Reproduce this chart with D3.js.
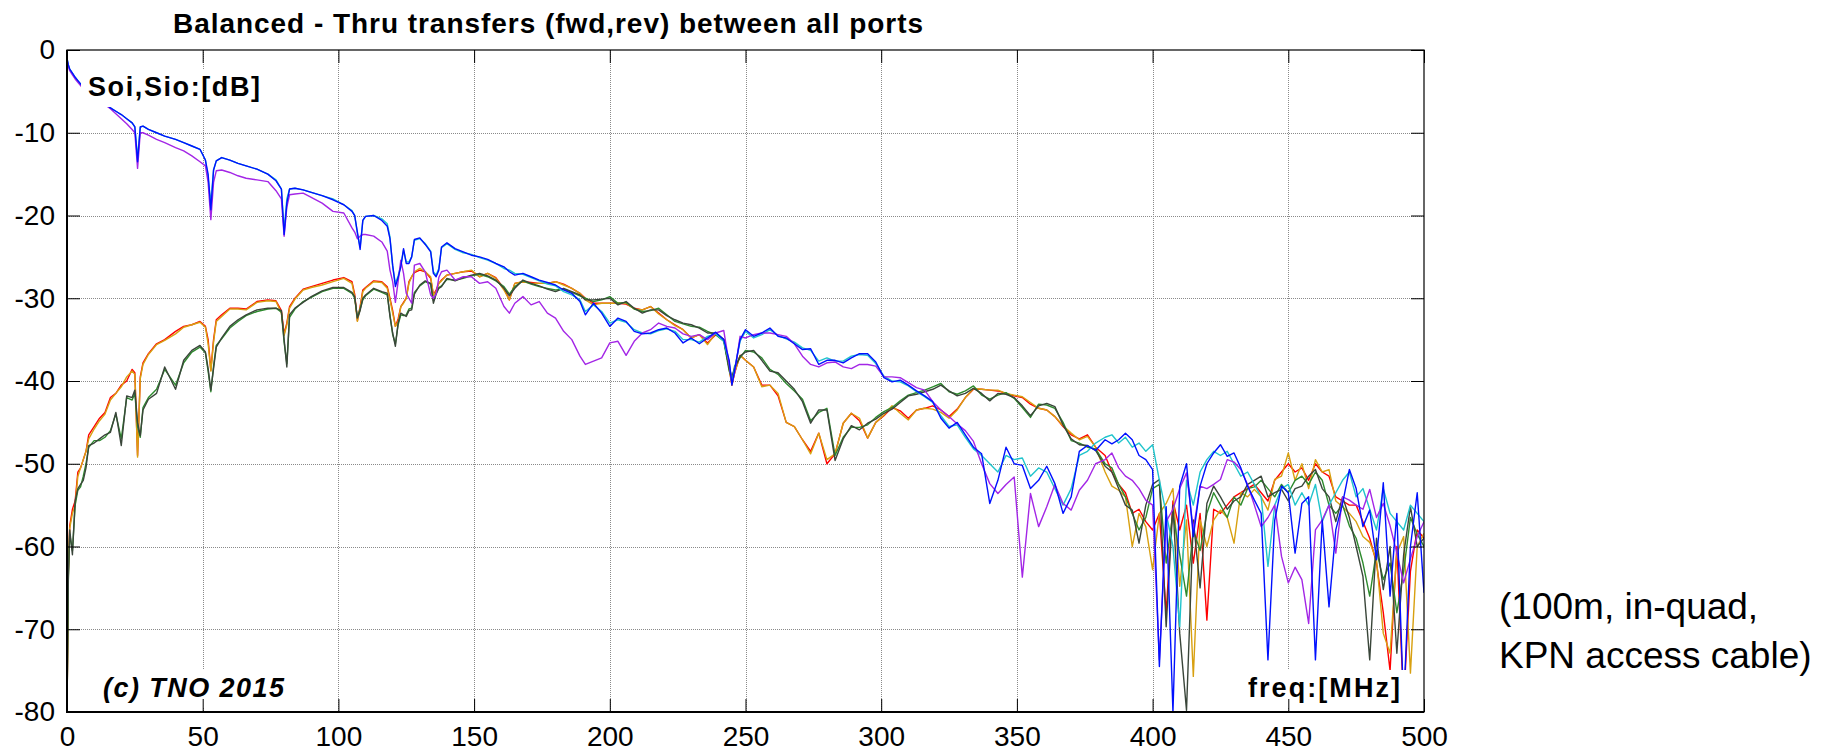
<!DOCTYPE html>
<html>
<head>
<meta charset="utf-8">
<script src="https://cdn.jsdelivr.net/npm/d3@7"></script>
<style>
  html, body { margin: 0; padding: 0; background: #fff; }
  svg { display: block; font-family: "Liberation Sans", Arial, Helvetica, sans-serif; }
</style>
</head>
<body>
<svg id="chart" width="1832" height="752"></svg>
<script>
// frequency points [MHz], one line per segment
const freq = [
  0, 0.5, 1, 2, 3, 4, 5, 6, 7, 8, 10, 12, 14, 16, 18, 20, 22, 24, 25, 26, 27, 28, 30,
  33, 36, 40, 43, 46, 49, 51, 52, 53, 54, 55, 57, 60,
  63, 66, 70, 74, 77, 79, 80, 81, 82, 84, 87, 90,
  94, 98, 102, 105, 106, 107, 108, 109, 110, 113, 116, 118, 119, 120,
  121, 122, 123, 124, 125, 126, 127, 128, 130, 132, 134, 135, 136, 137, 138, 140,
  143, 146, 149, 152, 155, 158, 161, 163, 165, 168, 171, 174, 177, 180, 183, 186, 189, 191,
  194, 197, 200, 203, 206, 209, 212, 215, 218, 221, 224, 227, 230, 233, 236, 239, 242,
  244, 245, 246, 248, 250, 253, 256, 259, 262, 265, 268, 271, 274, 277, 280, 283, 286, 289, 292, 295, 298,
  301, 304, 307, 310, 313, 316, 319, 322, 325, 328, 331, 334, 337, 340, 343, 346, 349, 352, 355, 358, 361, 364, 367, 370, 373, 376, 379,
  382.5, 385, 387.5, 390, 392.5, 395, 397.5, 400, 402.5, 405, 407.5, 410, 412.5, 415, 417.5, 420, 422.5, 425, 427.5, 430, 432.5, 435, 437.5, 440,
  442.5, 445, 447.5, 450, 452.5, 455, 457.5, 460, 462.5, 465, 467.5, 470, 472.5, 475, 477.5, 480, 482.5, 485, 487.5, 490, 492.5, 495, 497.5, 500
];

// transfers [dB]
const blue = [
  -1.0, -1.8, -2.3, -2.8, -3.3, -3.7, -4.1, -4.5, -4.9, -5.2, -5.6, -6.0, -6.4, -7.0, -7.4, -7.8, -8.3, -8.8, -9.3, -13.5, -9.3, -9.2, -9.6,
  -10.0, -10.4, -10.8, -11.2, -11.6, -12.0, -13.3, -15.0, -19.3, -14.5, -13.4, -13.0, -13.3,
  -13.7, -14.0, -14.4, -15.0, -15.8, -16.8, -22.3, -18.5, -16.8, -16.7, -16.9, -17.2,
  -17.6, -18.1, -18.7, -19.5, -20.0, -22.0, -24.1, -20.6, -20.1, -20.0, -20.6, -21.3, -22.8, -26.0,
  -28.6, -27.5, -26.2, -24.0, -25.8, -25.8, -25.0, -22.9, -22.7, -23.5, -24.4, -27.0, -27.4, -26.6, -23.8, -23.3,
  -24.0, -24.4, -24.8, -25.0, -25.3, -25.8, -26.2, -26.8, -27.2, -27.0, -27.4, -27.8, -28.1, -28.4, -29.0, -29.4, -30.4, -32.0,
  -30.6, -31.8, -33.4, -32.4, -32.8, -34.0, -34.3, -34.2, -33.8, -33.6, -34.2, -35.4, -34.8, -35.5, -34.8, -34.1, -35.0,
  -37.5, -40.5, -38.7, -35.0, -33.8, -34.6, -34.2, -33.6, -34.6, -34.8, -35.5, -36.2, -36.1, -38.0, -37.5, -37.5, -37.8, -37.2, -36.7, -36.7, -37.7,
  -39.6, -40.1, -39.9, -40.5, -41.2, -41.8, -42.5, -44.5, -45.7, -45.0, -46.5, -48.0, -48.8, -54.8, -52.0, -48.0, -50.0, -50.2, -53.0, -52.0, -50.3, -52.4, -56.0, -54.0, -48.5, -47.8, -48.4,
  -47.1, -47.6, -47.1, -46.3, -47.1, -49.0, -49.5, -50.7, -74.5, -55.2, -80.0, -52.7, -50.0, -58.8, -52.7, -50.0, -48.7, -47.7, -49.1, -48.7, -50.5, -52.7, -54.4, -56.0,
  -73.7, -56.8, -52.7, -53.5, -60.8, -54.8, -54.0, -73.7, -56.8, -67.3, -58.0, -54.8, -50.7, -53.0, -57.6, -55.6, -61.6, -52.3, -66.0, -56.0, -79.0, -60.0, -53.5, -65.6
];
const cyan = [
  -1.0, -1.8, -2.3, -2.8, -3.3, -3.7, -4.1, -4.5, -4.9, -5.2, -5.6, -6.0, -6.4, -7.0, -7.4, -7.8, -8.3, -8.8, -9.3, -13.0, -9.3, -9.2, -9.6,
  -10.0, -10.4, -10.8, -11.2, -11.6, -12.0, -13.3, -15.5, -18.5, -14.5, -13.4, -13.0, -13.3,
  -13.7, -14.0, -14.4, -15.0, -15.7, -16.8, -21.8, -18.0, -16.8, -16.7, -16.9, -17.2,
  -17.6, -18.0, -18.7, -19.4, -20.0, -22.2, -23.8, -20.6, -20.1, -20.0, -20.4, -21.0, -22.6, -26.2,
  -28.2, -27.3, -26.0, -24.2, -25.6, -25.6, -25.0, -23.0, -22.8, -23.4, -24.3, -26.8, -27.2, -26.4, -23.9, -23.4,
  -24.1, -24.5, -24.7, -25.1, -25.4, -25.8, -26.4, -26.6, -27.0, -27.1, -27.5, -27.9, -28.3, -28.5, -29.2, -29.6, -30.2, -31.6,
  -30.8, -31.6, -33.0, -32.6, -32.9, -33.8, -34.2, -34.3, -33.9, -33.7, -34.0, -35.0, -35.0, -35.3, -34.6, -34.3, -35.2,
  -37.8, -40.2, -38.5, -35.2, -34.0, -34.8, -34.4, -33.8, -34.5, -34.9, -35.3, -36.0, -36.3, -37.6, -37.2, -37.6, -37.6, -37.0, -36.8, -36.9, -37.9,
  -39.4, -40.0, -40.1, -40.6, -41.3, -41.9, -42.6, -44.2, -45.5, -45.3, -46.8, -48.2, -49.0, -50.0, -51.0, -49.0, -49.5, -49.3, -51.5, -50.5, -51.0, -53.0, -55.0, -53.0, -49.0, -48.5, -47.5,
  -46.8, -46.5, -47.5, -46.8, -48.0, -47.5, -48.5, -47.7, -52.0, -56.0, -60.0, -69.7, -52.0, -55.0, -51.0, -49.5, -48.5, -49.0, -48.5, -50.0, -51.5, -51.0, -52.5, -54.0,
  -62.4, -55.0, -53.0, -52.5, -55.0, -53.5, -55.0, -52.5, -57.0, -55.0, -53.5, -52.0, -51.0, -54.0, -53.0, -55.5, -58.0, -53.0, -56.0, -57.0, -58.0, -55.0, -56.0, -57.0
];
const purple = [
  -1.2, -2.0, -2.5, -3.0, -3.5, -3.9, -4.3, -4.7, -5.1, -5.4, -5.8, -6.2, -6.6, -7.1, -7.7, -8.3, -8.9, -9.6, -10.0, -14.3, -10.0, -10.0, -10.3,
  -10.8, -11.2, -11.8, -12.2, -12.8, -13.5, -14.0, -16.0, -20.5, -16.0, -14.6, -14.5, -14.8,
  -15.2, -15.5, -15.7, -15.9, -17.0, -18.0, -22.5, -19.0, -17.5, -17.4, -17.3, -17.8,
  -18.5, -19.5, -19.7, -21.5, -22.0, -22.8, -22.5, -22.3, -22.3, -22.5, -23.2, -24.3, -26.6, -28.0,
  -30.5, -28.0, -25.4, -27.0, -29.4, -30.0, -30.6, -26.0, -25.8, -26.8, -29.6, -30.0, -29.5, -27.5, -26.8, -26.6,
  -27.8, -27.4, -27.4, -28.2, -28.0, -28.8, -31.0, -31.8, -30.6, -29.8, -30.8, -30.4, -31.8, -32.4, -34.0, -35.0, -37.0, -38.0,
  -37.6, -37.2, -35.4, -35.2, -36.9, -35.2, -34.2, -33.8, -33.0, -33.4, -33.6, -34.3, -34.6, -34.4, -35.0, -34.2, -33.9,
  -38.0, -40.3, -39.0, -34.6, -34.8, -34.4, -34.2, -34.2, -34.4, -34.6, -35.5, -37.0, -38.0, -38.3, -37.8, -37.7, -38.3, -38.5, -38.0, -38.0, -38.2,
  -39.5, -39.5, -39.6, -40.2, -40.8, -41.1, -42.5, -43.5, -44.3, -45.2, -46.0, -47.3, -50.0, -52.4, -53.6, -52.5, -51.6, -63.7, -53.6, -57.6, -55.2, -52.5, -54.8, -55.6, -53.2, -52.0, -50.0,
  -49.5, -48.7, -50.5, -51.5, -52.0, -53.0, -54.4, -55.0, -73.7, -57.0, -55.5, -53.0, -51.1, -58.0, -52.7, -53.0, -52.5, -51.9, -49.5, -49.8, -50.7, -52.5, -55.0, -57.6,
  -56.5, -55.0, -61.2, -64.4, -62.5, -64.0, -69.3, -58.0, -56.8, -55.0, -60.8, -54.0, -54.4, -55.0, -55.5, -53.1, -56.5, -54.8, -57.5, -60.8, -64.4, -61.5, -58.8, -57.0
];
const red = [
  -80, -63, -57.5, -55.5, -54.5, -51, -50.5, -49.5, -48.5, -46.5, -45.5, -44.5, -43.8, -42.0, -41.5, -40.5, -40.0, -38.6, -39.0, -49.0, -39.5, -37.8, -36.7,
  -35.5, -35.0, -34.0, -33.4, -33.2, -32.8, -33.4, -35.0, -38.7, -35.0, -32.6, -32.0, -31.2,
  -31.2, -31.3, -30.4, -30.2, -30.3, -31.5, -34.3, -33.0, -31.0, -30.0, -28.9, -28.6,
  -28.2, -27.8, -27.5, -28.0, -29.5, -32.7, -31.0, -29.0, -28.7, -27.9, -28.0, -28.6, -30.0, -31.5,
  -33.4, -32.5, -31.0, -30.5, -30.0, -28.0, -27.4, -26.9, -26.6, -26.8, -27.6, -29.6, -29.0, -28.2, -27.8, -27.2,
  -27.0, -26.8, -26.7, -27.4, -27.0, -27.5, -28.8, -30.2, -28.2, -28.0, -28.1, -28.2, -28.2, -28.0, -28.3, -28.8, -29.4, -30.0,
  -30.6, -30.6, -30.6, -30.6, -30.7, -31.2, -31.4, -31.0, -31.8, -32.6, -33.2, -33.8, -34.8, -34.4, -35.4, -34.4, -35.0,
  -38.5, -40.5, -39.0, -36.9, -37.5, -38.3, -40.5, -40.5, -41.8, -45.0, -45.5, -47.1, -48.5, -46.3, -50.0, -48.8, -45.1, -43.9, -44.8, -46.9, -45.0,
  -44.2, -43.2, -43.6, -44.5, -43.5, -43.3, -43.0, -43.5, -44.3, -43.4, -42.0, -41.0, -41.0, -41.1, -41.2, -41.5, -41.8, -42.0, -42.8, -43.3, -43.5, -44.3, -45.5, -46.5, -47.0, -46.5, -48.0,
  -49.0, -51.0, -52.5, -53.5, -56.0, -55.5, -57.0, -58.0, -56.0, -68.0, -54.5, -58.0, -55.0, -62.0, -56.0, -68.9, -55.5, -56.0, -55.0, -54.0, -53.5, -53.0, -52.5, -53.5,
  -54.5, -52.0, -51.0, -50.0, -51.0, -50.5, -52.0, -50.0, -51.0, -51.5, -54.0, -54.5, -55.0, -55.0, -57.0, -59.0, -62.0, -68.0, -75.0, -60.0, -79.0, -63.0, -58.0, -59.0
];
const gold = [
  -80, -63, -57.8, -56.0, -55.0, -51.5, -50.5, -49.5, -48.5, -47.0, -45.8, -44.8, -44.0, -42.3, -41.5, -40.7, -39.5, -38.8, -39.2, -49.2, -39.7, -38.0, -36.8,
  -35.6, -35.1, -34.3, -33.5, -33.2, -32.9, -33.5, -35.5, -38.8, -35.3, -32.8, -32.2, -31.3,
  -31.3, -31.4, -30.5, -30.3, -30.4, -31.8, -34.5, -33.2, -31.2, -30.1, -29.0, -28.7,
  -28.4, -28.0, -27.6, -28.2, -29.8, -32.8, -31.2, -29.2, -28.8, -28.0, -28.1, -28.8, -30.2, -31.8,
  -33.4, -32.8, -31.0, -30.6, -30.0, -28.2, -27.4, -26.8, -26.4, -26.8, -27.4, -29.6, -29.2, -28.2, -27.9, -27.2,
  -27.0, -26.8, -26.6, -27.4, -27.0, -27.6, -29.0, -30.2, -28.2, -28.0, -28.2, -28.2, -28.2, -28.0, -28.4, -28.8, -29.4, -30.2,
  -30.8, -30.6, -30.6, -30.6, -30.6, -31.3, -31.4, -31.0, -31.9, -32.6, -33.3, -33.8, -34.8, -34.4, -35.6, -34.2, -35.0,
  -38.5, -40.5, -39.0, -36.9, -37.5, -38.3, -40.7, -40.5, -41.5, -45.0, -45.5, -47.1, -48.8, -46.3, -49.5, -48.8, -45.1, -43.9, -44.5, -46.9, -45.0,
  -44.1, -43.0, -43.9, -44.7, -43.5, -43.3, -43.4, -43.8, -44.5, -43.5, -42.0, -40.9, -41.0, -41.1, -41.1, -41.5, -41.7, -41.9, -42.6, -43.3, -43.5, -44.3, -45.4, -46.3, -47.1, -46.7, -48.0,
  -51.0, -52.7, -53.2, -54.0, -60.0, -56.0, -57.6, -62.8, -56.0, -54.8, -53.0, -64.8, -56.8, -75.7, -56.8, -60.0, -56.8, -55.6, -56.5, -59.6, -53.5, -54.0, -53.1, -54.0,
  -55.6, -51.9, -51.5, -48.7, -52.0, -50.0, -53.0, -49.5, -51.0, -50.7, -54.5, -55.2, -56.0, -57.0, -58.8, -59.5, -61.6, -70.5, -72.9, -60.8, -58.8, -75.3, -60.0, -58.4
];
const green = [
  -80, -64.0, -58.5, -60.5, -55.0, -53.2, -52.8, -51.5, -50.0, -48.0, -47.2, -47.2, -46.8, -46.0, -44.0, -47.0, -42.0, -42.3, -41.5, -45.5, -46.8, -43.2, -42.0,
  -41.0, -38.6, -40.5, -37.8, -36.5, -35.9, -36.6, -38.8, -41.3, -38.2, -35.7, -34.9, -33.6,
  -32.8, -32.1, -31.6, -31.3, -31.2, -31.7, -35.3, -37.9, -32.3, -31.3, -30.4, -29.9,
  -29.2, -28.8, -28.8, -29.4, -30.0, -32.3, -31.3, -30.2, -29.7, -28.9, -29.3, -29.6, -32.0, -34.4,
  -35.5, -33.2, -32.0, -32.1, -32.0, -31.3, -31.2, -29.3, -28.5, -28.0, -28.3, -30.3, -29.4, -28.7, -28.5, -27.7,
  -27.8, -27.6, -27.3, -27.1, -27.4, -27.9, -28.6, -29.5, -28.6, -27.9, -28.3, -28.6, -28.8, -29.0, -28.9, -29.3, -29.7, -30.0,
  -30.4, -30.2, -29.8, -30.6, -30.5, -31.3, -31.6, -31.5, -31.2, -32.0, -32.8, -33.1, -33.4, -33.5, -34.0, -34.4, -35.2,
  -38.8, -39.8, -38.2, -37.2, -36.3, -36.5, -37.2, -38.6, -39.2, -40.3, -41.2, -42.2, -44.8, -43.8, -43.3, -49.0, -46.8, -45.6, -45.6, -45.3, -44.4,
  -43.7, -43.2, -42.4, -41.7, -41.4, -41.1, -40.7, -40.3, -41.3, -41.6, -41.2, -40.6, -41.7, -42.2, -41.7, -41.4, -42.1, -43.2, -44.4, -42.8, -42.9, -43.3, -45.0, -47.2, -47.5, -48.0, -48.2,
  -50.0, -50.5, -52.5, -54.0, -56.0, -58.0, -56.5, -53.0, -52.5, -62.0, -56.0, -61.0, -66.0, -58.0, -60.5, -56.0, -53.5, -55.0, -56.5, -54.0, -55.0, -53.0, -52.8, -52.0,
  -53.0, -54.0, -52.5, -53.5, -52.0, -51.5, -52.5, -51.0, -52.0, -55.0, -56.0, -55.0, -57.5, -59.0, -62.0, -66.0, -60.5, -64.0, -62.0, -68.0, -63.0, -56.5, -58.5, -60.0
];
const darkgrey = [
  -80, -63.5, -58.0, -61.0, -54.5, -53.0, -52.5, -52.0, -50.5, -47.8, -47.5, -47.0, -46.5, -46.2, -43.8, -47.8, -41.8, -42.0, -41.1, -45.0, -46.6, -43.5, -42.2,
  -41.5, -38.3, -41.0, -37.5, -36.3, -35.7, -36.5, -38.5, -41.1, -38.5, -35.9, -34.8, -33.4,
  -32.6, -32.0, -31.4, -31.2, -31.2, -31.5, -35.0, -38.3, -32.0, -31.2, -30.5, -29.8,
  -29.1, -28.7, -28.7, -29.3, -29.8, -32.4, -31.5, -30.0, -29.6, -28.8, -29.2, -29.4, -32.2, -34.2,
  -35.8, -33.0, -31.8, -32.0, -32.2, -31.5, -31.4, -29.5, -28.4, -27.9, -28.2, -30.6, -29.5, -28.8, -28.6, -27.6,
  -27.9, -27.5, -27.2, -27.0, -27.3, -27.8, -28.8, -29.7, -28.8, -27.8, -28.2, -28.5, -28.9, -29.2, -28.8, -29.2, -29.6, -30.2,
  -30.2, -30.1, -30.0, -30.8, -30.4, -31.2, -31.8, -31.4, -31.4, -32.1, -32.6, -33.0, -33.2, -33.6, -34.2, -34.2, -35.0,
  -38.5, -39.5, -38.5, -37.0, -36.5, -36.3, -37.5, -38.8, -39.0, -40.0, -41.0, -42.5, -45.1, -43.5, -43.5, -49.6, -47.0, -45.4, -45.9, -45.1, -44.6,
  -43.9, -43.4, -42.6, -41.8, -41.6, -41.3, -41.0, -40.5, -41.2, -41.8, -41.5, -40.9, -41.5, -42.4, -41.5, -41.6, -42.0, -43.0, -44.2, -43.0, -42.7, -43.1, -45.3, -47.0, -47.7, -47.8, -48.4,
  -50.3, -51.0, -53.0, -55.0, -55.6, -59.6, -55.0, -52.5, -51.9, -69.7, -55.0, -70.5, -79.8, -56.8, -65.0, -54.8, -52.7, -54.0, -55.5, -54.5, -54.0, -52.5, -52.0, -51.5,
  -54.0, -53.5, -53.1, -54.5, -53.0, -52.7, -51.5, -50.7, -53.0, -54.0, -57.0, -54.0, -56.5, -60.0, -63.6, -73.7, -59.0, -65.2, -60.0, -72.9, -61.0, -55.2, -60.0, -59.0
];

// drawing order (last on top) and colours
const seriesList = [red, gold, green, darkgrey, cyan, purple, blue];
const seriesColors = ["#ff0000", "#d8a010", "#2e8b2e", "#3a463a", "#20c4cc", "#a326e6", "#0010ff"];

const xTicks = [0, 50, 100, 150, 200, 250, 300, 350, 400, 450, 500];
const yTicks = [0, -10, -20, -30, -40, -50, -60, -70, -80];

const svg = d3.select("#chart");
const plotL = 67, plotR = 1424, plotT = 50, plotB = 712;

const x = d3.scaleLinear().domain([0, 500]).range([plotL, plotR]);
const y = d3.scaleLinear().domain([-80, 0]).range([plotB, plotT]);

seriesList.forEach(s => {
  if (s.length !== freq.length) console.error("length mismatch", s.length, freq.length);
});

svg.append("rect").attr("width", 1832).attr("height", 752).attr("fill", "#fff");

svg.append("clipPath").attr("id", "plotClip")
  .append("rect")
  .attr("x", plotL).attr("y", plotT)
  .attr("width", plotR - plotL).attr("height", plotB - plotT);

// grid (dotted)
const grid = svg.append("g").attr("stroke", "#8a8a8a").attr("stroke-width", 1)
  .attr("stroke-dasharray", "1,1");
grid.selectAll("line.gx")
  .data(xTicks.slice(1, -1))
  .enter().append("line")
  .attr("x1", d => Math.round(x(d)) + 0.5).attr("x2", d => Math.round(x(d)) + 0.5)
  .attr("y1", plotT).attr("y2", plotB);
grid.selectAll("line.gy")
  .data(yTicks.slice(1, -1))
  .enter().append("line")
  .attr("y1", d => Math.round(y(d)) + 0.5).attr("y2", d => Math.round(y(d)) + 0.5)
  .attr("x1", plotL).attr("x2", plotR);

// curves
const line = d3.line()
  .x(d => x(d[0]))
  .y(d => y(d[1]));

svg.append("g").attr("clip-path", "url(#plotClip)")
  .selectAll("path")
  .data(seriesList)
  .enter().append("path")
  .attr("d", s => line(freq.map((f, i) => [f, s[i]])))
  .attr("fill", "none")
  .attr("stroke", (s, i) => seriesColors[i])
  .attr("stroke-width", 1.4)
  .attr("stroke-linejoin", "round");

// boxed labels inside the axes
function boxedText(tx, ty, str, width, style) {
  const g = svg.append("g");
  const t = g.append("text")
    .attr("x", tx).attr("y", ty)
    .attr("font-size", 27)
    .attr("font-weight", "bold")
    .attr("font-style", style)
    .attr("textLength", width)
    .attr("lengthAdjust", "spacing")
    .text(str);
  const bb = t.node().getBBox();
  g.insert("rect", "text")
    .attr("x", bb.x - 7).attr("y", bb.y - 3)
    .attr("width", bb.width + 14).attr("height", bb.height + 8)
    .attr("fill", "#fff");
}
boxedText(88, 96, "Soi,Sio:[dB]", 172, "normal");
boxedText(103, 697, "(c) TNO 2015", 181, "italic");
boxedText(1248, 697, "freq:[MHz]", 152, "normal");

// axes: ticks inward on all four sides
svg.append("g")
  .attr("transform", `translate(0,${plotB})`)
  .call(d3.axisBottom(x).tickValues(xTicks).tickSize(-13).tickPadding(14).tickFormat(d => String(d)));
svg.append("g")
  .attr("transform", `translate(${plotL},0)`)
  .call(d3.axisLeft(y).tickValues(yTicks).tickSize(-13).tickPadding(12).tickFormat(d => String(d)));
svg.append("g")
  .attr("transform", `translate(0,${plotT})`)
  .call(d3.axisTop(x).tickValues(xTicks).tickSize(-13).tickFormat(""));
svg.append("g")
  .attr("transform", `translate(${plotR},0)`)
  .call(d3.axisRight(y).tickValues(yTicks).tickSize(-13).tickFormat(""));

svg.selectAll(".domain").remove();
svg.selectAll(".tick line").attr("stroke", "#000").attr("stroke-width", 1);
svg.selectAll(".tick text")
  .attr("font-family", "'Liberation Sans', Arial, sans-serif")
  .attr("font-size", 28)
  .attr("fill", "#000");

// frame
svg.append("rect")
  .attr("x", plotL).attr("y", plotT)
  .attr("width", plotR - plotL).attr("height", plotB - plotT)
  .attr("fill", "none").attr("stroke", "#000").attr("stroke-width", 1.2);
svg.append("path")
  .attr("d", `M${plotL},${plotT}V${plotB}H${plotR}`)
  .attr("fill", "none").attr("stroke", "#000").attr("stroke-width", 2);

// title
svg.append("text")
  .attr("x", 173).attr("y", 33)
  .attr("font-size", 28)
  .attr("font-weight", "bold")
  .attr("textLength", 750)
  .attr("lengthAdjust", "spacing")
  .text("Balanced - Thru transfers (fwd,rev) between all ports");

// side note
const note = svg.append("text")
  .attr("font-size", 37)
  .attr("fill", "#000");
note.append("tspan").attr("x", 1499).attr("y", 619).text("(100m, in-quad,");
note.append("tspan").attr("x", 1499).attr("y", 668).text("KPN access cable)");
</script>
</body>
</html>
